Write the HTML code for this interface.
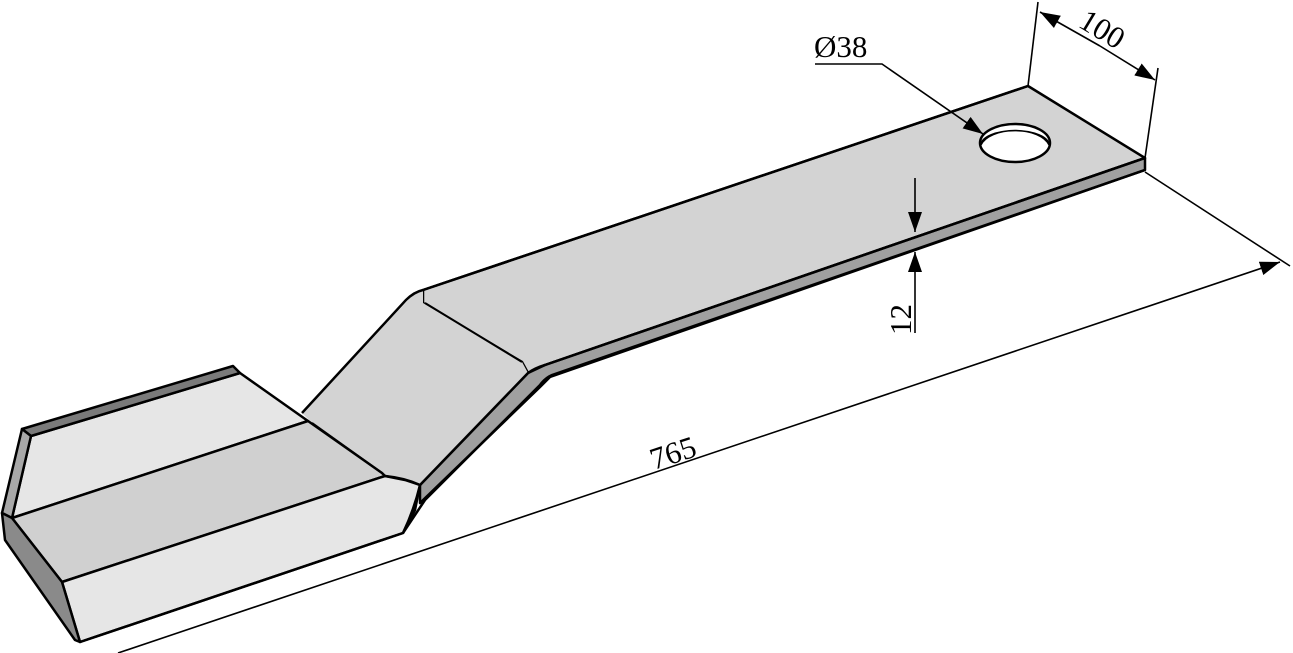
<!DOCTYPE html>
<html><head><meta charset="utf-8"><style>html,body{margin:0;padding:0;background:#fff}svg{display:block}text{font-family:"Liberation Serif",serif}</style></head>
<body>
<svg width="1293" height="653" viewBox="0 0 1293 653" xmlns="http://www.w3.org/2000/svg" style="font-family:'Liberation Serif',serif">
<defs>
<marker id="a" markerWidth="20" markerHeight="14" refX="20" refY="7" orient="auto" markerUnits="userSpaceOnUse" viewBox="0 0 20 14"><path d="M0,0 L20,7 L0,14 z" fill="#000"/></marker>
</defs>
<g stroke="#000" stroke-width="2.5" stroke-linejoin="round">
<polygon points="423,290 1028,86 1145,158 545,365 528,373 522,362 423,303" fill="#d3d3d3"/>
<polygon points="1145,158 1145,170 550,377 540,387 420,503 420,485 528,373 545,365" fill="#a0a0a0"/>
<polygon points="423,290 412,296 302,413 310,421 382,473 385,476 405,480 420,485 528,373 522,362 423,303" fill="#d3d3d3" stroke="none"/>
<path d="M1028,86 L423,290 Q414,292 406,300 L302,413" fill="none"/>
<path d="M1145,158 L545,365 Q535,368 528,373 L420,485" fill="none"/>
<path d="M1145,170 L552,375 Q545,378 540,385 L425,500 L403,533" fill="none"/>
<line x1="425" y1="303" x2="522" y2="362" stroke-width="2"/>
<polygon points="31,436 240,373 308,421 12,518" fill="#e6e6e6"/>
<polygon points="22,429 233,366 240,373 31,436" fill="#7a7a7a"/>
<polygon points="22,429 31,436 12,518 2,513" fill="#a8a8a8"/>
<polygon points="12,518 308,421 382,473 385,476 62,582" fill="#d0d0d0"/>
<polygon points="62,582 385,476 405,480 420,485 415,510 403,533 80,642" fill="#e6e6e6"/>
<polygon points="2,513 12,518 62,582 80,642 75,640 5,540" fill="#8a8a8a"/>
<path d="M385,476 Q405,478 420,485 Q414,510 403,533 L80,642" fill="none"/>
<line x1="312" y1="423" x2="382" y2="473" stroke-width="2"/>
</g>
<ellipse cx="1015" cy="143" rx="35" ry="19" fill="#fff" stroke="#000" stroke-width="2.5"/>
<path d="M981,145 A35,19 0 0 1 1049,145 A33,14 0 0 0 981,145 z" fill="#7a7a7a" stroke="#000" stroke-width="1.5"/>
<g stroke="#000" stroke-width="1.6" fill="none">
<line x1="1145" y1="172" x2="1290" y2="266"/>
<line x1="118" y1="653" x2="1280" y2="262" marker-end="url(#a)"/>
<line x1="1028" y1="86" x2="1038" y2="2"/>
<line x1="1145" y1="158" x2="1158" y2="68"/>
<line x1="1100" y1="46" x2="1040" y2="12" marker-end="url(#a)"/>
<line x1="1100" y1="46" x2="1155" y2="80" marker-end="url(#a)"/>
<polyline points="815,64 882,64 983,134" marker-end="url(#a)"/>
<line x1="915" y1="178" x2="915" y2="232" marker-end="url(#a)"/>
<line x1="915" y1="333" x2="915" y2="252" marker-end="url(#a)"/>
</g>
<g font-size="31" fill="#000">
<text x="814" y="57">Ø38</text>
<text x="0" y="0" transform="translate(1077,26) rotate(31)">100</text>
<text x="0" y="0" transform="translate(911,335) rotate(-90)">12</text>
<text x="0" y="0" transform="translate(654,470) rotate(-18)">765</text>
</g>
</svg>
</body></html>
